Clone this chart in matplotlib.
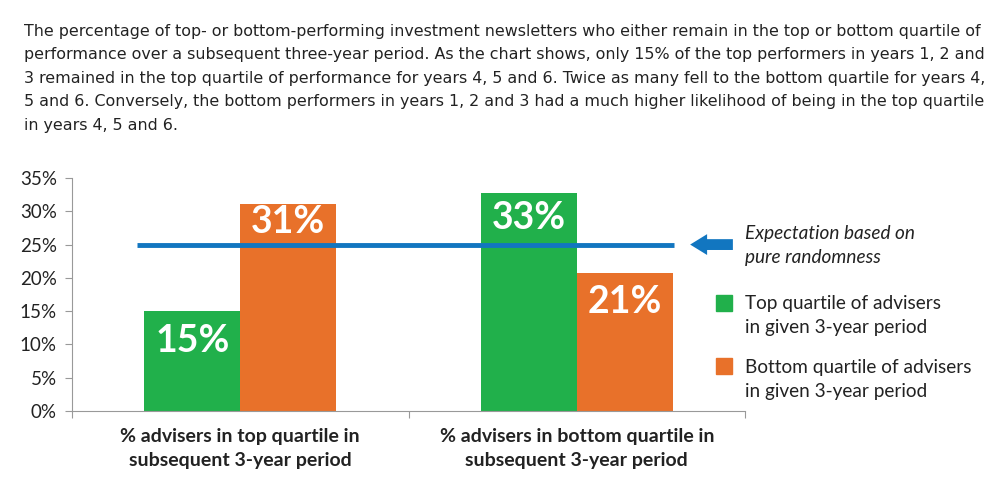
import matplotlib.pyplot as plt
from matplotlib.ticker import FuncFormatter

# data
categories = ["% advisers in top quartile in\nsubsequent 3-year period",
              "% advisers in bottom quartile in\nsubsequent 3-year period"]
top_group = [15, 32.7]
bottom_group = [31.1, 20.8]
labels_top = ["15%", "33%"]
labels_bottom = ["31%", "21%"]
expectation = 25
yticks = [0, 5, 10, 15, 20, 25, 30, 35]

intro = ("The percentage of top- or bottom-performing investment newsletters who either remain in the top or bottom quartile of\n"
         "performance over a subsequent three-year period. As the chart shows, only 15% of the top performers in years 1, 2 and\n"
         "3 remained in the top quartile of performance for years 4, 5 and 6. Twice as many fell to the bottom quartile for years 4,\n"
         "5 and 6. Conversely, the bottom performers in years 1, 2 and 3 had a much higher likelihood of being in the top quartile\n"
         "in years 4, 5 and 6.")

GREEN = "#21b04b"
ORANGE = "#e8712a"
BLUE = "#1276c0"
TEXT = "#222222"
FONT = "Lato"

fig = plt.figure(figsize=(10, 4.94), dpi=100)
fig.text(0.024, 1 - 24 / 494, intro, ha="left", va="top", fontsize=11.4,
         family="DejaVu Sans", color=TEXT, linespacing=1.7)

ax = fig.add_axes([0.072, 83 / 494, 0.673, 233 / 494])
w = 0.285
x = [0, 1]
ax.bar([i - w / 2 for i in x], top_group, w, color=GREEN)
ax.bar([i + w / 2 for i in x], bottom_group, w, color=ORANGE)

# value labels inside bars (placed by hand in the original, away from the line)
top_offsets = [21.5, 18]
bottom_offsets = [13, 21.5]
for i in x:
    ax.annotate(labels_top[i], (i - w / 2, top_group[i]), xytext=(0, -top_offsets[i]),
                textcoords="offset points", ha="center", va="center",
                color="white", fontsize=27, fontweight="bold", family=FONT)
    ax.annotate(labels_bottom[i], (i + w / 2, bottom_group[i]), xytext=(0, -bottom_offsets[i]),
                textcoords="offset points", ha="center", va="center",
                color="white", fontsize=27, fontweight="bold", family=FONT)

# expectation line and arrow
ax.plot([-0.307, 1.29], [expectation, expectation], color=BLUE, lw=3.5,
        solid_capstyle="butt", clip_on=False)
ax.annotate("", xy=(1.337, expectation), xytext=(1.464, expectation),
            arrowprops=dict(arrowstyle="simple,head_length=1.22,head_width=1.5,tail_width=0.78",
                            color=BLUE, lw=0, shrinkA=0, shrinkB=0),
            annotation_clip=False)

ax.set_xlim(-0.5, 1.5)
ax.set_ylim(0, 35)
ax.set_yticks(yticks)
ax.yaxis.set_major_formatter(FuncFormatter(lambda v, p: f"{v:.0f}%"))
ax.set_xticks([-0.5, 0.5, 1.5])
ax.set_xticklabels([])
ax.tick_params(axis="x", length=5, color="#999999", direction="out")
ax.tick_params(axis="y", length=5, color="#999999", labelsize=13.5, labelcolor=TEXT, pad=6)
for lab in ax.get_yticklabels():
    lab.set_family(FONT)
for s in ["top", "right"]:
    ax.spines[s].set_visible(False)
for s in ["left", "bottom"]:
    ax.spines[s].set_color("#999999")

for i in x:
    ax.text(i, -2.6, categories[i], ha="center", va="top", fontsize=14,
            fontweight="bold", family=FONT, color=TEXT, linespacing=1.45)

# legend text on the right
fig.text(745 / 1000, 1 - 245 / 494, "Expectation based on\npure randomness", ha="left",
         va="center", fontsize=13.7, style="italic", family=FONT, color=TEXT,
         linespacing=1.5)
fig.add_artist(plt.Rectangle((716 / 1000, 1 - 311 / 494), 16 / 1000, 16 / 494,
                             color=GREEN, transform=fig.transFigure))
fig.add_artist(plt.Rectangle((716 / 1000, 1 - 374 / 494), 16 / 1000, 16 / 494,
                             color=ORANGE, transform=fig.transFigure))
fig.text(745 / 1000, 1 - 315 / 494, "Top quartile of advisers\nin given 3-year period",
         ha="left", va="center", fontsize=13.7, family=FONT, color=TEXT, linespacing=1.5)
fig.text(745 / 1000, 1 - 379 / 494, "Bottom quartile of advisers\nin given 3-year period",
         ha="left", va="center", fontsize=13.7, family=FONT, color=TEXT, linespacing=1.5)

fig.savefig("out.png", dpi=100)
